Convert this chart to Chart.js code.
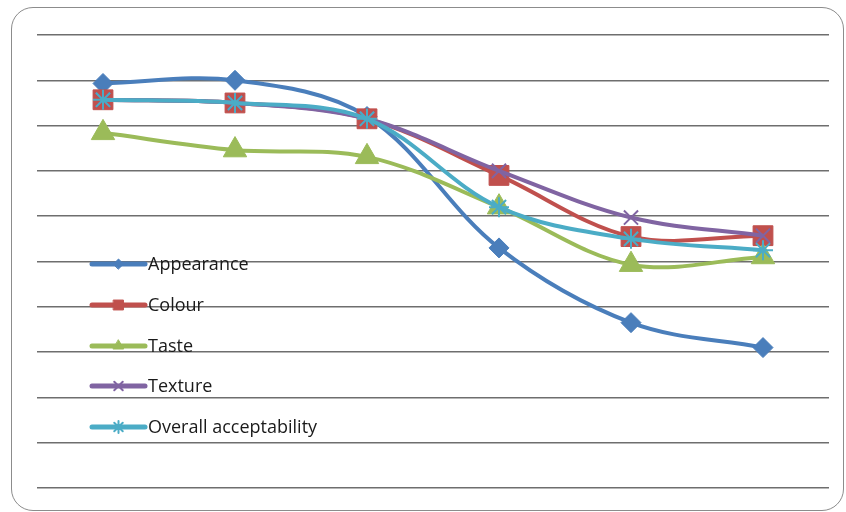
<!DOCTYPE html>
<html>
<head>
<meta charset="utf-8">
<script src="https://cdn.jsdelivr.net/npm/chart.js@4/dist/chart.umd.min.js"></script>
<style>
  html, body { margin: 0; padding: 0; background: #fff; }
  #wrap { position: relative; width: 846px; height: 512px; overflow: hidden; }
  #frame {
    position: absolute; left: 11px; top: 7px; width: 833px; height: 504px;
    border: 1.5px solid #8c8c8c; border-radius: 22px; box-sizing: border-box;
  }
  #c { position: absolute; left: 0; top: 0; }
</style>
</head>
<body>
<div id="wrap">
  <div id="frame"></div>
  <canvas id="c" width="846" height="512"></canvas>
</div>
<script>
// Sensory scores over the six sampling points
const categories = ['1', '2', '3', '4', '5', '6'];
const appearance = [8.93, 9.0, 8.2, 5.3, 3.65, 3.1];
const colour     = [8.57, 8.5, 8.15, 6.9, 5.55, 5.57];
const taste      = [7.84, 7.46, 7.31, 6.2, 4.93, 5.1];
const texture    = [8.57, 8.5, 8.15, 7.0, 5.97, 5.57];
const overall    = [8.57, 8.5, 8.15, 6.2, 5.5, 5.25];
const seriesNames = ['Appearance', 'Colour', 'Taste', 'Texture', 'Overall acceptability'];
const yTicks = [0, 1, 2, 3, 4, 5, 6, 7, 8, 9, 10];

const styles = [
  { color: '#4A7EBB', point: 'rectRot',  r: 10, bw: 1, legendR: 5 },
  { color: '#C0504D', point: 'rect',     r: 14, bw: 1, legendR: 7 },
  { color: '#9BBB59', point: 'triangle', r: 13.5, bw: 1, legendR: 6 },
  { color: '#8064A2', point: 'crossRot', r: 10, bw: 2, legendR: 6 },
  { color: '#4BACC6', point: 'star',     r: 10, bw: 2, legendR: 6 }
];
const seriesValues = [appearance, colour, taste, texture, overall];

const datasets = seriesValues.map((vals, i) => ({
  label: seriesNames[i],
  data: vals,
  borderColor: styles[i].color,
  backgroundColor: styles[i].color,
  borderWidth: 4,
  tension: 0.35,
  pointStyle: styles[i].point,
  pointRadius: styles[i].r,
  pointBorderWidth: styles[i].bw,
  pointBackgroundColor: styles[i].color,
  pointBorderColor: styles[i].color,
  order: seriesValues.length - i
}));

// Legend drawn inside the plot area, to the left
const insideLegend = {
  id: 'insideLegend',
  afterDatasetsDraw(chart) {
    const ctx = chart.ctx;
    const x0 = 92, x1 = 145, textX = 148;
    const rows = [264, 305, 346, 386, 427];
    ctx.save();
    ctx.font = '18px "Open Sans", Lato, sans-serif';
    ctx.textBaseline = 'middle';
    ctx.textAlign = 'left';
    seriesNames.forEach((name, i) => {
      const y = rows[i];
      const s = styles[i];
      ctx.strokeStyle = s.color;
      ctx.lineWidth = 5;
      ctx.lineCap = 'round';
      ctx.beginPath();
      ctx.moveTo(x0, y);
      ctx.lineTo(x1, y);
      ctx.stroke();
      ctx.fillStyle = s.color;
      ctx.strokeStyle = s.color;
      ctx.lineWidth = s.bw;
      Chart.helpers.drawPoint(ctx, { pointStyle: s.point, radius: s.legendR, borderWidth: s.bw }, (x0 + x1) / 2, y);
      ctx.fillStyle = '#1a1a1a';
      ctx.fillText(name, textX, y + 1);
    });
    ctx.restore();
  }
};

new Chart(document.getElementById('c'), {
  type: 'line',
  data: { labels: categories, datasets },
  options: {
    responsive: false,
    animation: false,
    layout: { padding: { left: 37, right: 17, top: 35, bottom: 24 } },
    plugins: { legend: { display: false }, tooltip: { enabled: false } },
    scales: {
      x: { type: 'category', offset: true, display: false },
      y: {
        min: yTicks[0], max: yTicks[yTicks.length - 1],
        afterBuildTicks: (s) => { s.ticks = yTicks.map(v => ({ value: v })); },
        afterFit: (s) => { s.width = 0; },
        ticks: { display: false },
        border: { display: false },
        grid: { color: '#6e6e6e', lineWidth: 1.5, drawTicks: false }
      }
    }
  },
  plugins: [insideLegend]
});
</script>
</body>
</html>
